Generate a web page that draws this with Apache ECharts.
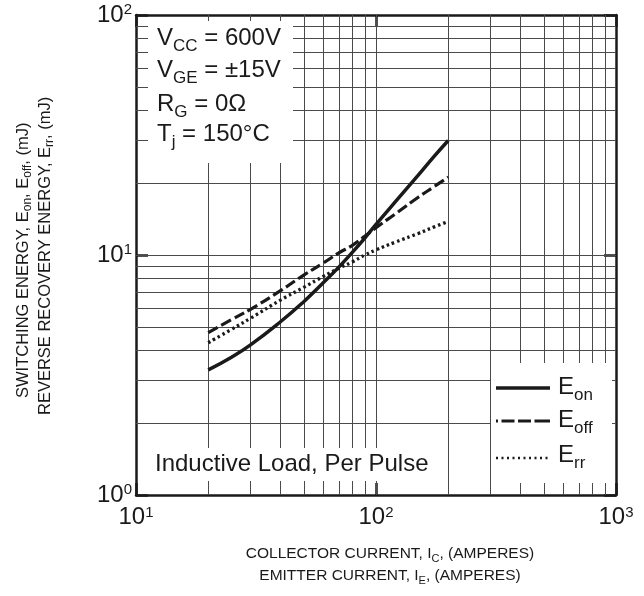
<!DOCTYPE html>
<html>
<head>
<meta charset="utf-8">
<script src="https://cdn.jsdelivr.net/npm/echarts@6/dist/echarts.min.js"></script>
<style>
html,body{margin:0;padding:0;background:#fff;}
#chart{width:644px;height:596px;}
</style>
</head>
<body>
<div id="chart"></div>
<script>
// ---- data ----
const currents = [20, 25, 30, 40, 50, 60, 70, 80, 90, 100, 120, 150, 175, 200];
const eon  = [3.32, 3.75, 4.22, 5.27, 6.39, 7.62, 8.9, 10.3, 11.8, 13.4, 16.6, 21.5, 25.8, 30.0];
const eoff = [4.75, 5.38, 5.94, 7.10, 8.25, 9.23, 10.2, 11.0, 12.0, 13.0, 14.8, 17.4, 19.3, 21.1];
const err  = [4.31, 4.90, 5.45, 6.49, 7.33, 8.12, 8.80, 9.38, 10.0, 10.5, 11.3, 12.3, 13.1, 13.8];
const xGridValues = [20, 30, 40, 50, 60, 70, 80, 90, 100, 200, 300, 400, 500, 600, 700, 800, 900];
const yGridValues = [2, 3, 4, 5, 6, 7, 8, 9, 10, 20, 30, 40, 50, 60, 70, 80, 90];
const xRange = [10, 1000];
const yRange = [1, 100];

const FF = '"Liberation Sans", Arial, Helvetica, sans-serif';
const INK = '#1a1a1a';

const cv = document.createElement('canvas').getContext('2d');
function measure(t, s) { cv.font = s + 'px ' + FF; return cv.measureText(t).width; }

function textLine(parts, x, y, anchor, rotation) {
  let cx = 0; const els = [];
  parts.forEach(p => {
    els.push({ type: 'text', x: cx, y: p.dy || 0, z: 12, silent: true,
      style: { text: p.t, fontSize: p.s, fontFamily: FF, fill: INK, align: 'left', verticalAlign: 'middle' } });
    cx += measure(p.t, p.s);
  });
  if (anchor === 'center') els.forEach(e => { e.x -= cx / 2; });
  return { type: 'group', x: x, y: y, rotation: rotation || 0, children: els };
}

const B = 24, S = 17, T = 15.5, TS = 11, YT = 16.5, YTS = 12;

const chart = echarts.init(document.getElementById('chart'), null, { renderer: 'canvas' });

function axisBase(pos, showLabel, isX) {
  const o = {
    type: 'log', logBase: 10, position: pos,
    min: isX ? xRange[0] : yRange[0], max: isX ? xRange[1] : yRange[1],
    axisLine: { show: true, onZero: false, lineStyle: { color: INK, width: 2.5 } },
    axisTick: { show: true, inside: true, length: 12, lineStyle: { color: INK, width: 2.5 } },
    splitLine: { show: false }, minorTick: { show: false }, minorSplitLine: { show: false },
    axisLabel: { show: showLabel }
  };
  if (showLabel) {
    o.axisLabel = {
      show: true, margin: isX ? 10 : 4,
      formatter: v => '{b|10}{s|' + Math.round(Math.log10(v)) + '}',
      rich: {
        b: { fontSize: B, fontFamily: FF, color: INK },
        s: { fontSize: 15, fontFamily: FF, color: INK, padding: [0, 0, 10, 0] }
      }
    };
  }
  return o;
}

const lineSeries = (name, vals, style) => ({
  name, type: 'line', z: 20, silent: true, symbol: 'none', showSymbol: false, smooth: 0.5,
  data: currents.map((c, i) => [c, vals[i]]), lineStyle: Object.assign({ color: INK, cap: 'butt' }, style)
});

const option = {
  animation: false,
  grid: { left: 136, top: 15, width: 480, height: 480, show: false },
  xAxis: [axisBase('bottom', true, true), axisBase('top', false, true)],
  yAxis: [axisBase('left', true, false), axisBase('right', false, false)],
  series: [
    { type: 'line', data: [], z: 1, silent: true,
      markLine: { silent: true, symbol: ['none', 'none'], label: { show: false }, animation: false,
        lineStyle: { color: '#4a4a4a', width: 1, type: 'solid' }, emphasis: { disabled: true },
        data: xGridValues.map(v => ({ xAxis: v })).concat(yGridValues.map(v => ({ yAxis: v }))) } },
    lineSeries('Eon', eon, { width: 3.5, type: 'solid' }),
    lineSeries('Eoff', eoff, { width: 3.2, type: [11, 4] }),
    lineSeries('Err', err, { width: 3.3, type: [2.5, 3] })
  ],
  graphic: [
    { type: 'rect', z: 10, silent: true, shape: { x: 148, y: 21, width: 145, height: 142 }, style: { fill: '#fff' } },
    { type: 'rect', z: 10, silent: true, shape: { x: 139, y: 448, width: 300, height: 33 }, style: { fill: '#fff' } },
    { type: 'rect', z: 10, silent: true, shape: { x: 491, y: 363, width: 121, height: 120 }, style: { fill: '#fff' } },
    textLine([{ t: 'V', s: B }, { t: 'CC', s: S, dy: 8 }, { t: ' = 600V', s: B }], 157, 38),
    textLine([{ t: 'V', s: B }, { t: 'GE', s: S, dy: 8 }, { t: ' = \u00b115V', s: B }], 157, 70),
    textLine([{ t: 'R', s: B }, { t: 'G', s: S, dy: 8 }, { t: ' = 0\u03a9', s: B }], 157, 104),
    textLine([{ t: 'T', s: B }, { t: 'j', s: S, dy: 8 }, { t: ' = 150\u00b0C', s: B }], 157, 134),
    textLine([{ t: 'Inductive Load, Per Pulse', s: B }], 155, 464),
    { type: 'line', z: 12, silent: true, shape: { x1: 496, y1: 388, x2: 550, y2: 388 }, style: { stroke: INK, lineWidth: 3.5 } },
    { type: 'line', z: 12, silent: true, shape: { x1: 496, y1: 421, x2: 550, y2: 421 }, style: { stroke: INK, lineWidth: 3, lineDash: [2, 3.5, 13, 3.5, 13, 3.5, 15.5, 20] } },
    { type: 'line', z: 12, silent: true, shape: { x1: 496, y1: 458, x2: 550, y2: 458 }, style: { stroke: INK, lineWidth: 2.5, lineDash: [2, 3.5] } },
    textLine([{ t: 'E', s: B }, { t: 'on', s: S, dy: 8 }], 558, 387),
    textLine([{ t: 'E', s: B }, { t: 'off', s: S, dy: 8 }], 558, 420),
    textLine([{ t: 'E', s: B }, { t: 'rr', s: S, dy: 8 }], 558, 455),
    textLine([{ t: 'COLLECTOR CURRENT, I', s: T }, { t: 'C', s: TS, dy: 5 }, { t: ', (AMPERES)', s: T }], 390, 554, 'center'),
    textLine([{ t: 'EMITTER CURRENT, I', s: T }, { t: 'E', s: TS, dy: 5 }, { t: ', (AMPERES)', s: T }], 390, 576, 'center'),
    textLine([{ t: 'SWITCHING ENERGY, E', s: YT }, { t: 'on', s: YTS, dy: 5 }, { t: ', E', s: YT }, { t: 'off', s: YTS, dy: 5 }, { t: ', (mJ)', s: YT }], 23, 398, 'left', Math.PI / 2),
    textLine([{ t: 'REVERSE RECOVERY ENERGY, E', s: YT }, { t: 'rr', s: YTS, dy: 5 }, { t: ', (mJ)', s: YT }], 45, 415, 'left', Math.PI / 2)
  ]
};
chart.setOption(option);
</script>
</body>
</html>
